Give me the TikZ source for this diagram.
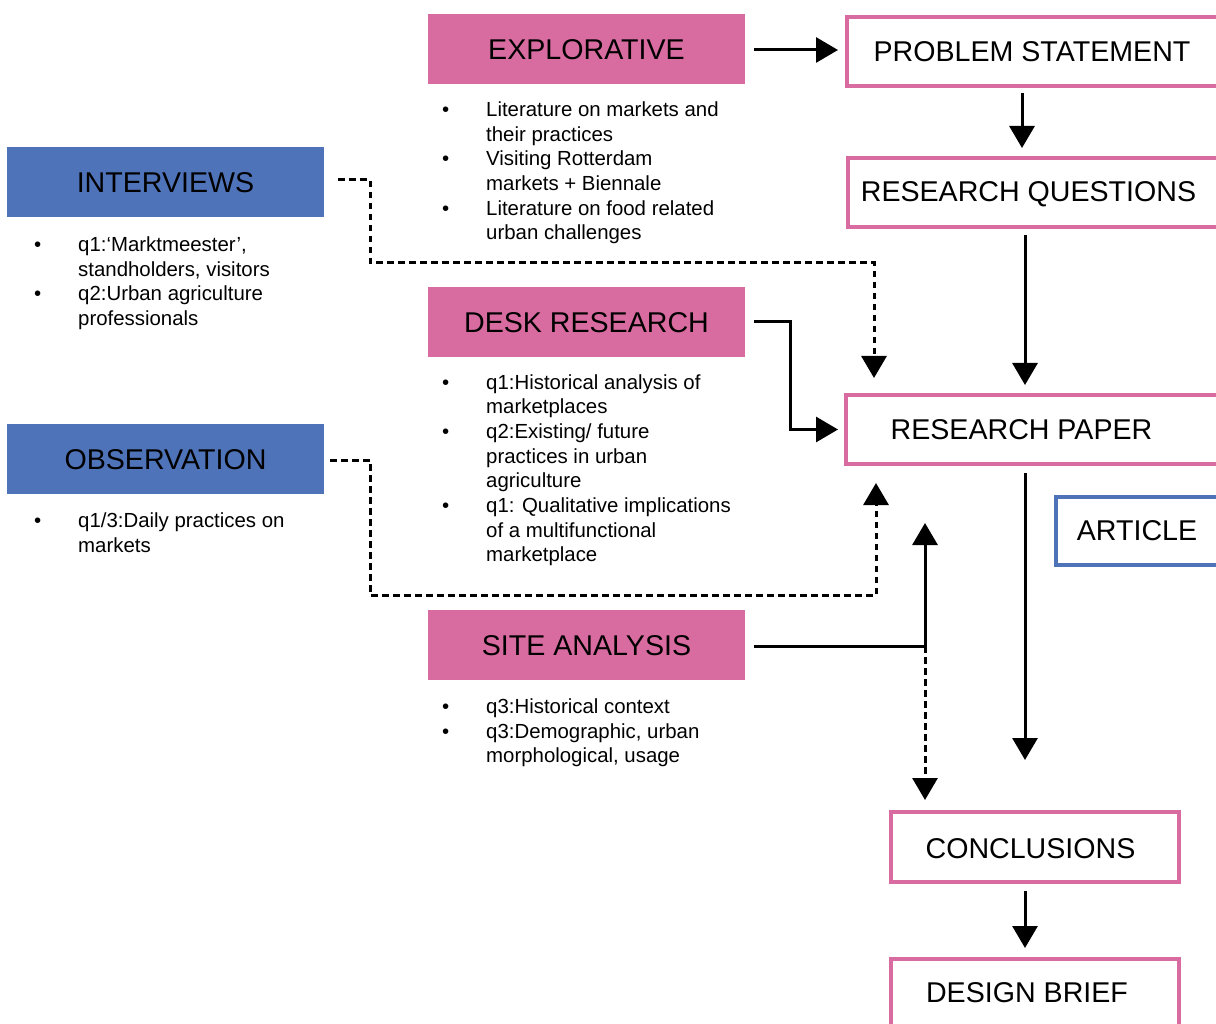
\documentclass[tikz,border=0pt]{standalone}
\usepackage{fontspec}
\setmainfont{Liberation Sans}
\usetikzlibrary{arrows.meta}
\definecolor{pk}{HTML}{D86BA0}
\definecolor{bl}{HTML}{4F73B8}
\newcommand{\mybul}{\leavevmode\llap{•\hspace{37pt}}}
\tikzset{
  fillbox/.style={fill=#1, draw=none, minimum width=317pt, minimum height=70pt, inner sep=0pt, outer sep=0pt, font=\fontsize{28.6}{30}\selectfont, text height=20.4pt, text depth=0pt},
  linebox/.style={draw=#1, line width=4pt, fill=white, inner sep=0pt, outer sep=0pt},
  ttl/.style={font=\fontsize{28.6}{30}\selectfont, text height=20.4pt, text depth=0pt, inner sep=0pt},
  listtxt/.style={anchor=base west, inner sep=0pt, font=\fontsize{20.4}{24.7}\selectfont},
  arr/.style={line width=3pt, -{Triangle[length=22pt,width=25pt]}},
  dsh/.style={arr, dash pattern=on 6.5pt off 4.5pt},
}
\begin{document}
\begin{tikzpicture}[x=1pt,y=-1pt]
\fill[white] (0,0) rectangle (1216,1024);
\useasboundingbox (0,0) rectangle (1216,1024);

% filled boxes
\node[fillbox=pk] (ex) at (586.5,49) {EXPLORATIVE};
\node[fillbox=pk] (desk) at (586.5,322) {DESK RESEARCH};
\node[fillbox=pk] (site) at (586.5,645) {SITE ANALYSIS};
\node[fillbox=bl] (iv) at (165.5,182) {INTERVIEWS};
\node[fillbox=bl] (obs) at (165.5,459) {OBSERVATION};

% outlined boxes
\node[linebox=pk, minimum width=383pt, minimum height=69pt] (ps) at (1038.5,51.5) {};
\node[ttl] (pst) at (1032,51) {PROBLEM STATEMENT};
\node[linebox=pk, minimum width=382pt, minimum height=69pt] (rq) at (1039,192.5) {};
\node[ttl] (rqt) at (1028.5,191.7) {RESEARCH QUESTIONS};
\node[linebox=pk, minimum width=384pt, minimum height=69pt] (rp) at (1038,429.5) {};
\node[ttl] (rpt) at (1021.5,429.7) {RESEARCH PAPER};
\node[linebox=bl, minimum width=174pt, minimum height=68pt] (art) at (1143,531) {};
\node[ttl] (artt) at (1137,530.3) {ARTICLE};
\node[linebox=pk, minimum width=288pt, minimum height=70pt] (con) at (1035,847) {};
\node[ttl] (cont) at (1030.5,847.8) {CONCLUSIONS};
\node[linebox=pk, minimum width=288pt, minimum height=81pt] (db) at (1035,999.5) {};
\node[ttl] (dbt) at (1027,992.2) {DESIGN BRIEF};

% lists
\node[listtxt] (exl) at (486,116.5) {\parbox[t]{400pt}{\raggedright\mybul Literature on markets and\\their practices\\\mybul Visiting Rotterdam\\markets + Biennale\\\mybul Literature on food related\\urban challenges}};
\node[listtxt] (ivl) at (78,251.5) {\parbox[t]{400pt}{\raggedright\mybul q1:‘Marktmeester’,\\standholders, visitors\\\mybul q2:Urban agriculture\\professionals}};
\node[listtxt] (deskl) at (486,389) {\parbox[t]{400pt}{\raggedright\mybul q1:Historical analysis of\\marketplaces\\\mybul q2:Existing/ future\\practices in urban\\agriculture\\\mybul q1: Qualitative implications\\of a multifunctional\\marketplace}};
\node[listtxt] (obsl) at (78,527.5) {\parbox[t]{400pt}{\raggedright\mybul q1/3:Daily practices on\\markets}};
\node[listtxt] (sitel) at (486,713.5) {\parbox[t]{400pt}{\raggedright\mybul q3:Historical context\\\mybul q3:Demographic, urban\\morphological, usage}};

% connectors
\draw[arr, shorten <=9pt, shorten >=9pt] (ex.east |- 0,50) -- (ps.west |- 0,50);
\draw[arr, shorten <=7pt, shorten >=10pt] (1022,0 |- ps.south) -- (1022,0 |- rq.north);
\draw[arr, shorten <=8pt, shorten >=10pt] (1025,0 |- rq.south) -- (1025,0 |- rp.north);
\coordinate (rpend) at (1025,760);
\draw[arr, shorten <=9pt] (1025,0 |- rp.south) -- (rpend);
\draw[arr, shorten <=9pt, shorten >=11pt] (1025,0 |- con.south) -- (1025,0 |- db.north);

\draw[arr, shorten <=9pt, shorten >=8pt] (desk.east) -| (790,0 |- rp.west) -- (rp.west);

\draw[dsh, shorten <=14pt, shorten >=17pt] (iv.east |- 0,180) -- (370,180) -- (370,263) -- (874,263) -- (874,0 |- rp.north);
\draw[dsh, shorten <=6pt, shorten >=19pt] (obs.east |- 0,460) -- (370,460) -- (370,595) -- (876,595) -- (876,0 |- rp.south);

\coordinate (siteup) at (925,523);
\coordinate (sitej) at (925,646);
\draw[arr, shorten <=9pt] (site.east |- 0,646) -| (siteup);
\draw[dsh, shorten >=12pt] (sitej) -- (925,0 |- con.north);
\end{tikzpicture}
\end{document}
